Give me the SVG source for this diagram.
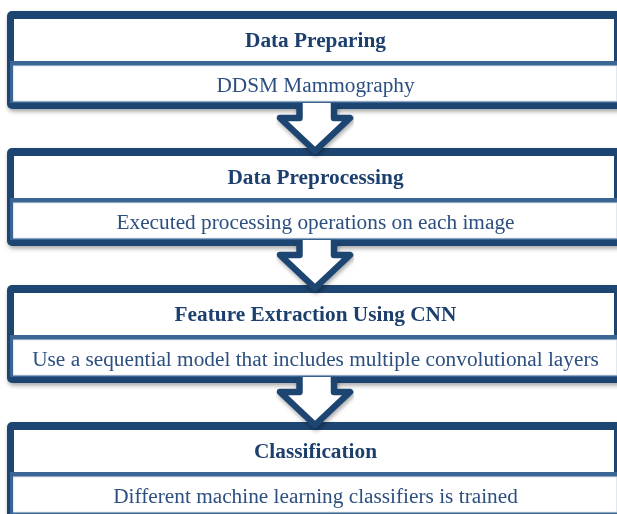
<svg xmlns="http://www.w3.org/2000/svg" width="617" height="514" viewBox="0 0 617 514">
  <defs>
    <filter id="shadow" x="-5%" y="-10%" width="110%" height="130%">
      <feDropShadow dx="1" dy="2.5" stdDeviation="2" flood-color="#000" flood-opacity="0.35"/>
    </filter>
    <!-- one stage box: dark frame, title panel, subtitle band -->
    <g id="stage">
      <rect x="7" y="0" width="620" height="98" rx="5" fill="#1F4571"/>
      <rect x="14" y="8" width="600" height="43" fill="#FFFFFF"/>
      <rect x="10" y="50" width="612" height="42" fill="#3A6595"/>
      <rect x="13.5" y="55" width="603" height="35" fill="#FFFFFF" stroke="#E4E8EE" stroke-width="1"/>
    </g>
    <!-- downward block arrow between stages -->
    <path id="down" d="M299.5,0 V15 H280 L315,48 L350,15 H334 V0"/>
  </defs>
  <style>
    .title { font-family: "Liberation Serif", "Times New Roman", serif; font-weight: bold; font-size: 21.3px; fill: #1F3F6E; text-anchor: middle; }
    .sub { font-family: "Liberation Serif", "Times New Roman", serif; font-size: 21.3px; fill: #2C4F80; text-anchor: middle; }
    .arrow { fill: #FFFFFF; stroke: #1F4571; stroke-width: 6.5; stroke-linejoin: round; }
  </style>
  <rect width="617" height="514" fill="#FFFFFF"/>

  <g id="node-data-preparing" filter="url(#shadow)">
    <use href="#stage" y="11"/>
    <text class="title" x="315.5" y="47">Data Preparing</text>
    <text class="sub" x="315.5" y="92">DDSM Mammography</text>
  </g>

  <g id="node-data-preprocessing" filter="url(#shadow)">
    <use href="#stage" y="148"/>
    <text class="title" x="315.5" y="184">Data Preprocessing</text>
    <text class="sub" x="315.5" y="229">Executed processing operations on each image</text>
  </g>

  <g id="node-feature-extraction" filter="url(#shadow)">
    <use href="#stage" y="285"/>
    <text class="title" x="315.5" y="321">Feature Extraction Using CNN</text>
    <text class="sub" x="315.5" y="366">Use a sequential model that includes multiple convolutional layers</text>
  </g>

  <g id="node-classification" filter="url(#shadow)">
    <use href="#stage" y="422"/>
    <text class="title" x="315.5" y="458">Classification</text>
    <text class="sub" x="315.5" y="503">Different machine learning classifiers is trained</text>
  </g>

  <g id="connectors" filter="url(#shadow)">
    <use href="#down" class="arrow" y="103"/>
    <use href="#down" class="arrow" y="240"/>
    <use href="#down" class="arrow" y="377"/>
  </g>
</svg>
